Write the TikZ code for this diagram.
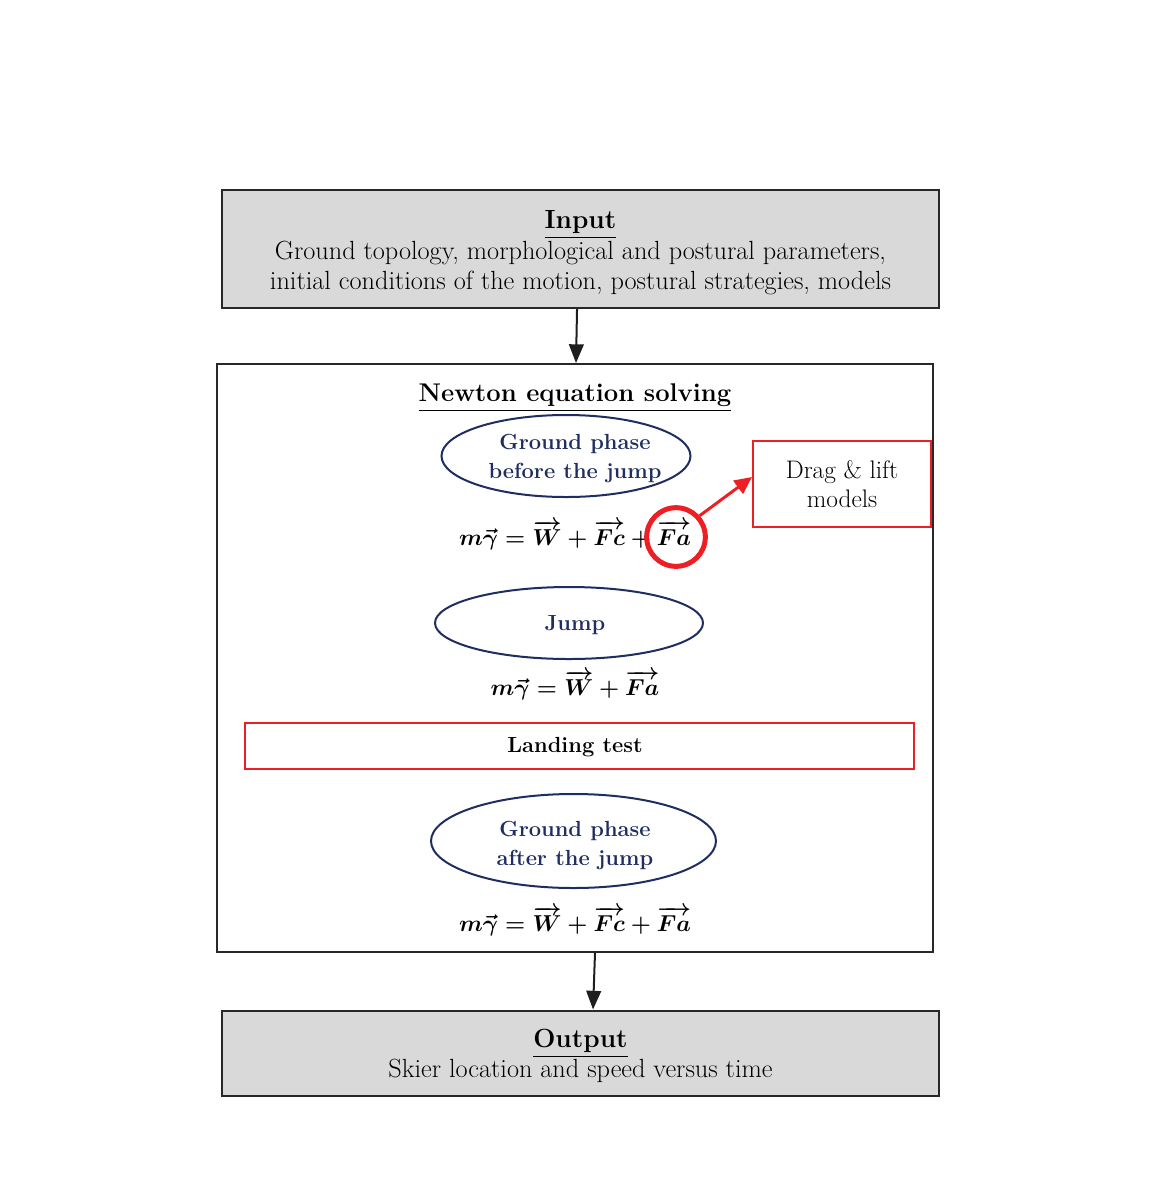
\documentclass[tikz,border=0pt]{standalone}
\usepackage{amsmath}
\usetikzlibrary{arrows.meta,shapes.geometric}

\definecolor{boxgray}{RGB}{217,217,217}
\definecolor{navy}{RGB}{31,45,96}
\definecolor{flagred}{RGB}{237,30,36}

\tikzset{every picture/.style={line width=0.75pt}}
\tikzset{
	txt/.style={font=\fontsize{19.7pt}{22.5pt}\selectfont, align=center},
	stagebox/.style={draw={rgb, 255:red, 40; green, 40; blue, 40}, line width=1.5pt, inner sep=0pt},
	phase/.style={ellipse, draw=navy, line width=1.5pt, inner sep=0pt, text=navy, align=center, font=\fontsize{16.4pt}{21.75pt}\selectfont\bfseries},
	redbox/.style={draw=flagred, line width=1.5pt, inner sep=0pt},
	eqn/.style={font=\fontsize{17.5pt}{21.75pt}\selectfont\boldmath},
	arr/.style={-{Triangle[length=14pt,width=11pt]}, line width=1.5pt, draw={rgb, 255:red, 30; green, 30; blue, 30}},
	redarr/.style={-{Triangle[length=13pt,width=12pt]}, line width=2.2pt, draw=flagred, fill=flagred}
}

\begin{document}
\begin{tikzpicture}[x=0.75pt,y=0.75pt,yscale=-1,xscale=1]
	\useasboundingbox (0,0) rectangle (1151,1183);

	%Shape: Input box
	\node[stagebox, fill=boxgray, minimum width=537.75pt, minimum height=88.5pt] (input) at (580.5,249) {};
	%Shape: Solver box
	\node[stagebox, fill=white, minimum width=537pt, minimum height=441pt] (solver) at (575,658) {};
	%Shape: Output box
	\node[stagebox, fill=boxgray, minimum width=537.75pt, minimum height=63.75pt] (output) at (580.5,1053) {};

	% Text Node
	\node[txt] (inputtxt) at (580.5,252.5)
		{\textbf{\underline{Input}}\\[1pt] Ground topology, morphological and postural parameters,\\ initial conditions of the motion, postural strategies, models};
	% Text Node
	\node[txt] (outputtxt) at (580.5,1055.5)
		{\textbf{\underline{Output}}\\ Skier location and speed versus time};
	% Text Node
	\node[txt, font=\fontsize{19.2pt}{21.75pt}\selectfont\bfseries] (solvetitle) at (575,398) {\underline{Newton equation solving}};

	%Shape: Ellipse phases
	\node[phase, minimum width=186.75pt, minimum height=61.5pt] (before) at (566,456) {};
	\node[phase, minimum width=201pt, minimum height=54pt] (jump) at (569,623) {};
	\node[phase, minimum width=213.75pt, minimum height=70.5pt] (after) at (573.5,841) {};
	% Text Node
	\node[phase, draw=none] (beforetxt) at (575,459) {Ground phase\\ before the jump};
	% Text Node
	\node[phase, draw=none] (jumptxt) at (575,625) {Jump};
	% Text Node
	\node[phase, draw=none] (aftertxt) at (575,846) {Ground phase\\ after the jump};

	% Text Node
	\node[eqn] (eqbefore) at (575,535) {$m\vec{\gamma} = \overrightarrow{W} + \overrightarrow{Fc} + \overrightarrow{Fa}$};
	% Text Node
	\node[eqn] (eqjump) at (575,685) {$m\vec{\gamma} = \overrightarrow{W} + \overrightarrow{Fa}$};
	% Text Node
	\node[eqn] (eqafter) at (575,921) {$m\vec{\gamma} = \overrightarrow{W} + \overrightarrow{Fc} + \overrightarrow{Fa}$};

	%Shape: Red boxes
	\node[redbox, fill=white, minimum width=133.5pt, minimum height=64.5pt, txt, font=\fontsize{19pt}{21.75pt}\selectfont] (drag) at (842,484) {Drag \& lift\\ models};
	\node[redbox, minimum width=501.75pt, minimum height=34.5pt] (landing) at (579.5,746) {};
	% Text Node
	\node[font=\fontsize{16.4pt}{21.75pt}\selectfont\bfseries] (landingtxt) at (575,747) {Landing test};

	%Shape: Circle round Fa
	\node[circle, draw=flagred, line width=3.75pt, minimum size=44pt, inner sep=0pt] (fa) at (676,537) {};

	%Straight Lines
	\draw[arr] ([xshift=-2.6pt]input.south) -- ([xshift=0.75pt]solver.north);
	\draw[arr] ([xshift=15pt]solver.south) -- ([xshift=9.4pt]output.north);
	\draw[redarr] (fa.42) -- ([yshift=-5.25pt]drag.west);

\end{tikzpicture}
\end{document}
